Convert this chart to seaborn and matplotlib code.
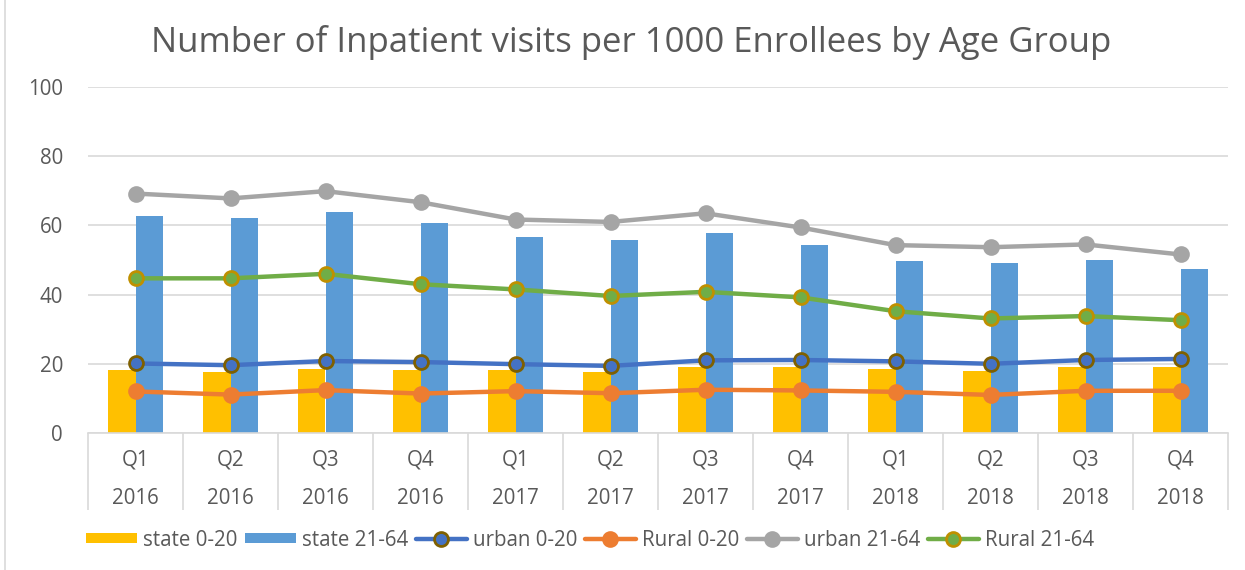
import numpy as np
import pandas as pd
import matplotlib
matplotlib.use("Agg")
import matplotlib.pyplot as plt
import seaborn as sns
from matplotlib.lines import Line2D
from matplotlib.patches import Patch

quarters = ["Q1", "Q2", "Q3", "Q4"] * 3
years = ["2016"] * 4 + ["2017"] * 4 + ["2018"] * 4
periods = [f"{q} {y}" for q, y in zip(quarters, years)]

state_0_20 = [18.3, 17.6, 18.6, 18.3, 18.3, 17.6, 19.0, 19.0, 18.6, 18.0, 19.0, 19.2]
state_21_64 = [62.8, 62.0, 63.8, 60.6, 56.6, 55.9, 57.8, 54.4, 49.7, 49.0, 50.0, 47.4]
urban_0_20 = [20.1, 19.6, 20.8, 20.5, 19.9, 19.4, 21.0, 21.1, 20.7, 20.0, 21.1, 21.4]
rural_0_20 = [12.0, 11.1, 12.4, 11.4, 12.1, 11.5, 12.5, 12.3, 11.9, 11.0, 12.2, 12.2]
urban_21_64 = [69.2, 67.8, 69.9, 66.7, 61.7, 61.0, 63.5, 59.4, 54.3, 53.7, 54.5, 51.6]
rural_21_64 = [44.7, 44.7, 46.0, 43.0, 41.5, 39.6, 40.8, 39.2, 35.2, 33.1, 33.8, 32.6]

bar_series = {"state 0-20": state_0_20, "state 21-64": state_21_64}
bar_colors = {"state 0-20": "#FFC000", "state 21-64": "#5B9BD5"}

# (name, values, line colour, marker edge colour)
line_series = [
    ("urban 0-20", urban_0_20, "#4472C4", "#7F6000"),
    ("Rural 0-20", rural_0_20, "#ED7D31", "#ED7D31"),
    ("urban 21-64", urban_21_64, "#A5A5A5", "#A5A5A5"),
    ("Rural 21-64", rural_21_64, "#70AD47", "#BF9000"),
]

sns.set_theme(style="white")
plt.rcParams["font.family"] = ["Open Sans", "DejaVu Sans"]
text_color = "#595959"
grid_color = "#D9D9D9"
label_size = 14.8

fig = plt.figure(figsize=(12.45, 5.7), dpi=100)
ax = fig.add_axes([88 / 1245, 1 - 433 / 570, 1140 / 1245, 346 / 570])

bars_df = pd.DataFrame(
    [(p, name, v) for name, vals in bar_series.items() for p, v in zip(periods, vals)],
    columns=["period", "series", "value"],
)
sns.barplot(
    data=bars_df, x="period", y="value", hue="series", order=periods,
    hue_order=list(bar_series), palette=bar_colors, width=0.57, saturation=1,
    errorbar=None, legend=False, ax=ax, zorder=2, linewidth=0,
)

xpos = np.arange(len(periods))
for name, vals, color, edge in line_series:
    sns.lineplot(
        x=xpos, y=vals, color=color, linewidth=3.2, marker="o",
        markersize=10, markeredgecolor=edge, markeredgewidth=2,
        markerfacecolor=color, ax=ax, zorder=3, legend=False,
    )

ax.set_xlim(-0.5, len(periods) - 0.5)
ax.set_ylim(0, 100)
ax.set_yticks(np.arange(0, 101, 20))
ax.yaxis.grid(True, color=grid_color, linewidth=1.2)
ax.set_axisbelow(True)
for side in ["top", "right", "left"]:
    ax.spines[side].set_visible(False)
ax.spines["bottom"].set_color(grid_color)
ax.spines["bottom"].set_linewidth(1.2)
ax.tick_params(axis="y", length=0, labelsize=label_size, labelcolor=text_color, pad=18)
ax.set_xticks(xpos)
ax.set_xticklabels([])
ax.tick_params(axis="x", length=0)
ax.set_xlabel("")
ax.set_ylabel("")

# Two-level category axis: quarter row, year row and separators
xt = ax.get_xaxis_transform()
for i, (q, y) in enumerate(zip(quarters, years)):
    ax.text(i, -0.078, q, transform=xt, ha="center", va="center",
            fontsize=label_size, color=text_color)
    ax.text(i, -0.188, y, transform=xt, ha="center", va="center",
            fontsize=label_size, color=text_color)
ax.vlines(np.arange(len(periods) + 1) - 0.5, -0.2225, 0, transform=xt,
          colors=grid_color, linewidth=1.2, clip_on=False)

fig.text(631 / 1245, 1 - 42 / 570, "Number of Inpatient visits per 1000 Enrollees by Age Group",
         ha="center", va="center", fontsize=25, color=text_color)

handles = [Patch(facecolor=bar_colors[n], edgecolor="none", label=n) for n in bar_series]
for name, vals, color, edge in line_series:
    handles.append(Line2D([0], [0], color=color, linewidth=3.2, marker="o",
                          markersize=10, markeredgecolor=edge, markeredgewidth=2,
                          markerfacecolor=color, label=name))
leg = fig.legend(handles=handles, loc="center", bbox_to_anchor=(590 / 1245, 1 - 540 / 570),
                 ncol=6, frameon=False, fontsize=label_size, handlelength=2.5,
                 handletextpad=0.3, columnspacing=0.35, handleheight=0.4)
for t in leg.get_texts():
    t.set_color(text_color)

fig.add_artist(Line2D([5 / 1245, 5 / 1245], [0, 1], color=grid_color, linewidth=1.2,
                      transform=fig.transFigure))

fig.savefig("out.png", dpi=100)
